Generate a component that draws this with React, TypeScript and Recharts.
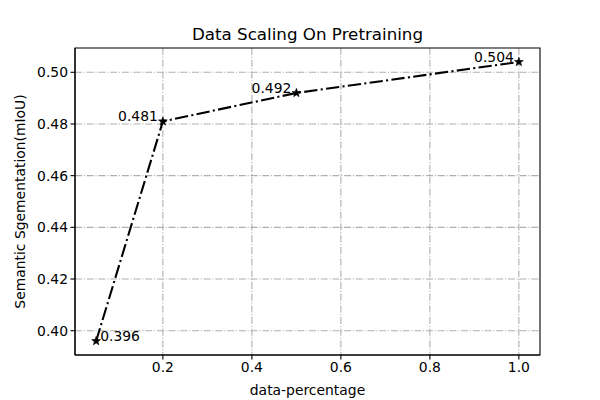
import React from 'react';
import {
  LineChart, Line, XAxis, YAxis, CartesianGrid, ReferenceArea, LabelList,
} from 'recharts';

// --- data ---
const percentages = [0.05, 0.2, 0.5, 1.0];
const miou = [0.396, 0.481, 0.492, 0.504];
const xTicks = [0.2, 0.4, 0.6, 0.8, 1.0];
const yTicks = [0.40, 0.42, 0.44, 0.46, 0.48, 0.50];

const data = percentages.map((p, i) => ({ p, v: miou[i] }));

const X_DOMAIN: [number, number] = [0.0025, 1.0475];
const Y_DOMAIN: [number, number] = [0.3906, 0.5094];
const FONT = '"DejaVu Sans", sans-serif';

// matplotlib '*' marker
const Star = (props: any) => {
  const { cx, cy } = props;
  if (cx == null || cy == null) return null;
  const R = 4.6, r = 1.9;
  const pts: string[] = [];
  for (let i = 0; i < 10; i++) {
    const a = -Math.PI / 2 + (i * Math.PI) / 5;
    const rad = i % 2 === 0 ? R : r;
    pts.push(`${cx + rad * Math.cos(a)},${cy + rad * Math.sin(a)}`);
  }
  return <polygon points={pts.join(' ')} fill="#000" stroke="#000" strokeWidth={0.6} />;
};

const ValueLabel = (props: any) => {
  const { x, y, value, index } = props;
  const first = index === 0;
  return (
    <text
      x={first ? x + 4 : x - 5}
      y={y}
      textAnchor={first ? 'start' : 'end'}
      fontSize={13.9}
      fontFamily={FONT}
      fill="#000"
    >
      {Number(value).toFixed(3)}
    </text>
  );
};

export default function App() {
  return (
    <div style={{ position: 'absolute', left: 0, top: 0, width: 600, height: 400, background: '#fff', fontFamily: FONT, color: '#000' }}>
      <LineChart width={600} height={400} data={data} margin={{ top: 48, right: 60, bottom: 0, left: 0 }}>
        <CartesianGrid stroke="#b0b0b0" strokeWidth={1.1} strokeDasharray="7 1.8 1.1 1.8" horizontalValues={yTicks} verticalValues={xTicks} />
        <XAxis
          dataKey="p"
          type="number"
          domain={X_DOMAIN}
          ticks={xTicks}
          tickFormatter={(v: number) => v.toFixed(1)}
          allowDataOverflow
          height={45}
          stroke="#000"
          strokeWidth={1.1}
          tickSize={4.5}
          tickMargin={2.5}
          tick={{ fill: '#000', fontSize: 13.9, fontFamily: FONT }}
        />
        <YAxis
          type="number"
          domain={Y_DOMAIN}
          ticks={yTicks}
          tickFormatter={(v: number) => v.toFixed(2)}
          allowDataOverflow
          width={75}
          stroke="#000"
          strokeWidth={1.1}
          tickSize={4.5}
          tickMargin={2.5}
          tick={{ fill: '#000', fontSize: 13.9, fontFamily: FONT }}
        />
        <ReferenceArea x1={X_DOMAIN[0]} x2={X_DOMAIN[1]} y1={Y_DOMAIN[0]} y2={Y_DOMAIN[1]} fill="none" stroke="#000" strokeWidth={1.1} fillOpacity={0} />
        <Line
          dataKey="v"
          stroke="#000"
          strokeWidth={2.1}
          strokeDasharray="13.3 3.3 2.1 3.3"
          dot={<Star />}
          activeDot={false}
          isAnimationActive={false}
        >
          <LabelList dataKey="v" content={<ValueLabel />} />
        </Line>
      </LineChart>
      <svg width={600} height={400} style={{ position: 'absolute', left: 0, top: 0, pointerEvents: 'none' }}>
        <text x={307.5} y={40} textAnchor="middle" fontSize={16.7} fontFamily={FONT} fill="#000">
          Data Scaling On Pretraining
        </text>
        <text x={307.5} y={395} textAnchor="middle" fontSize={13.9} fontFamily={FONT} fill="#000">
          data-percentage
        </text>
        <text
          x={0}
          y={0}
          transform="translate(25,201.5) rotate(-90)"
          textAnchor="middle"
          fontSize={13.9}
          fontFamily={FONT}
          fill="#000"
        >
          Semantic Sgementation(mIoU)
        </text>
      </svg>
    </div>
  );
}
